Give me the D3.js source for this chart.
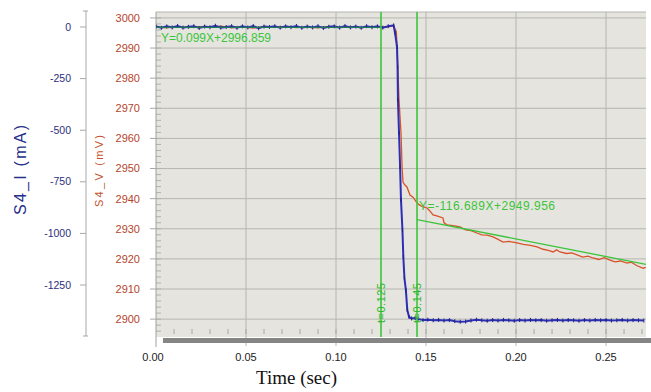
<!DOCTYPE html>
<html><head><meta charset="utf-8">
<script src="https://cdn.jsdelivr.net/npm/d3@7"></script>
<style>body{margin:0;background:#fff}svg{display:block}</style>
</head><body>
<svg id="c" width="651" height="392"></svg>
<script>
// ---- data ----
const xTicks = [0, 0.05, 0.10, 0.15, 0.20, 0.25];
const vTicks = [2900, 2910, 2920, 2930, 2940, 2950, 2960, 2970, 2980, 2990, 3000];
const iTicks = [0, -250, -500, -750, -1000, -1250];

const iTime = [0.000,0.003,0.006,0.009,0.012,0.015,0.018,0.021,0.024,0.027,0.030,0.033,0.036,0.039,0.042,0.045,0.048,0.051,0.054,0.057,0.060,0.063,0.066,0.069,0.072,0.075,0.078,0.081,0.084,0.087,0.090,0.093,0.096,0.099,0.102,0.105,0.108,0.111,0.114,0.117,0.120,0.123,0.126,0.129,0.132,
 0.1328,0.1339,0.1342,0.1344,0.1350,0.1356,0.1361,0.1369,0.1374,0.1380,0.1388,0.1396,0.1406,0.1420,0.1440,0.1456,0.1483,
 0.151,0.154,0.157,0.160,0.163,0.166,0.169,0.172,0.175,0.178,0.181,0.184,0.187,0.190,0.193,0.196,0.199,0.202,0.205,0.208,0.211,0.214,0.217,0.220,0.223,0.226,0.229,0.232,0.235,0.238,0.241,0.244,0.247,0.250,0.253,0.256,0.259,0.262,0.265,0.268,0.271];
const iVal = [2,-4,3,-2,5,-3,1,4,-5,2,-1,6,-3,0,4,-4,3,-2,5,-6,2,0,4,-3,3,-1,5,-4,2,-2,4,-5,1,3,-3,5,-2,2,-4,4,-1,3,-3,4,8,
 -29,-97,-194,-354,-514,-678,-838,-984,-1114,-1216,-1274,-1371,-1405,-1412,-1410,-1414,-1420,
 -1418,-1421,-1419,-1422,-1420,-1425,-1428,-1427,-1422,-1418,-1421,-1423,-1420,-1422,-1419,-1421,-1423,-1420,-1422,-1419,-1421,-1420,-1423,-1421,-1419,-1422,-1420,-1421,-1423,-1420,-1422,-1419,-1421,-1420,-1422,-1421,-1419,-1422,-1420,-1421,-1422];

const vTime = [0.000,0.006,0.012,0.018,0.024,0.030,0.036,0.042,0.048,0.054,0.060,0.066,0.072,0.078,0.084,0.090,0.096,0.102,0.108,0.114,0.120,0.126,0.132,0.1335,
 0.1339,0.1350,0.1361,0.1367,0.1372,0.1383,0.1394,0.1411,0.1428,0.1445,0.1461,0.1478,0.1506,0.1520,0.1539,0.1560,0.1594,0.1600,0.1617,0.1650,0.1689,0.1720,0.1750,0.1783,0.1810,0.1840,0.1872,0.1900,0.1928,0.1960,0.2006,0.2040,0.2080,0.2117,0.2150,0.2180,0.2206,0.2225,0.2244,0.2280,0.2310,0.2339,0.2370,0.2400,0.2428,0.2460,0.2490,0.2522,0.2550,0.2580,0.2617,0.2640,0.2670,0.2706,0.2720];
const vVal = [2997.0,2996.7,2997.2,2996.8,2997.1,2996.9,2997.3,2996.7,2997.0,2996.6,2997.2,2996.9,2997.1,2996.8,2997.0,2996.7,2997.2,2996.9,2997.1,2996.8,2997.0,2996.9,2997.3,2995.5,
 2990.4,2972.8,2961.8,2950.5,2945.5,2944.5,2943.9,2941.2,2940.5,2939.0,2938.0,2937.4,2936.9,2936.0,2934.6,2934.3,2933.6,2932.0,2931.3,2931.0,2930.6,2929.6,2929.4,2928.6,2928.0,2927.9,2927.3,2926.5,2925.6,2925.8,2925.3,2924.8,2924.5,2924.0,2923.2,2922.8,2922.3,2923.0,2922.3,2921.8,2922.0,2921.3,2920.6,2920.9,2920.3,2919.8,2920.4,2919.6,2919.0,2919.3,2918.6,2918.9,2917.8,2916.9,2917.2];

const fitSlope = [0.099, -116.689];
const fitIntercept = [2996.859, 2949.956];
const fitFrom = [0, 0.145];
const fitTo = [0.125, 0.2722];
const fitLabels = ["Y=0.099X+2996.859", "Y=-116.689X+2949.956"];
const cursorTimes = [0.125, 0.145];
const cursorLabels = ["t=0.125", "t=0.145"];

// ---- scales ----
const L = 156, R = 646, T = 12, B = 337;
const x = d3.scaleLinear().domain([0, 0.2722]).range([L, R]);
const yV = d3.scaleLinear().domain([2894.4, 3002.3]).range([336, 11]);
const yI = d3.scaleLinear().domain([-1497, 77.5]).range([336, 11]);

const svg = d3.select("#c");
const font = "Arial, 'Liberation Sans', sans-serif";

// plot background
svg.append("rect").attr("x", L).attr("y", T).attr("width", R - L).attr("height", B - T).attr("fill", "#e5e4de");
svg.append("line").attr("x1", L).attr("x2", R).attr("y1", T).attr("y2", T).attr("stroke", "#b4b4b0");

// grid
svg.append("g").selectAll("line").data(vTicks).join("line")
  .attr("x1", L).attr("x2", R).attr("y1", d => yV(d)).attr("y2", d => yV(d))
  .attr("stroke", "#b6b6b2").attr("stroke-width", 1);
svg.append("g").selectAll("line").data(xTicks.slice(1)).join("line")
  .attr("x1", d => x(d)).attr("x2", d => x(d)).attr("y1", T).attr("y2", 346)
  .attr("stroke", "#b6b6b2").attr("stroke-width", 1);

// minor ticks
const minorX = d3.range(1, 28).map(i => i / 100);
svg.append("g").selectAll("line").data(minorX).join("line")
  .attr("x1", d => x(d)).attr("x2", d => x(d)).attr("y1", 329).attr("y2", 334)
  .attr("stroke", "#a8a8a4");
const minorV = d3.range(2896, 3002, 2);
svg.append("g").selectAll("line").data(minorV).join("line")
  .attr("x1", L).attr("x2", L + 5).attr("y1", d => yV(d)).attr("y2", d => yV(d))
  .attr("stroke", "#b0b0ac");

// grey bar
svg.append("rect").attr("x", 163).attr("y", 338).attr("width", 651 - 163).attr("height", 5).attr("fill", "#858585");

// left plot border / mV axis
svg.append("line").attr("x1", L).attr("x2", L).attr("y1", T).attr("y2", 347).attr("stroke", "#a0a0a0");
svg.append("g").selectAll("line").data(vTicks).join("line")
  .attr("x1", 150).attr("x2", L).attr("y1", d => yV(d)).attr("y2", d => yV(d)).attr("stroke", "#a8a8a8");
svg.append("g").selectAll("text").data(vTicks).join("text")
  .attr("x", 140).attr("y", d => yV(d)).attr("dy", "0.35em").attr("text-anchor", "end")
  .attr("font-family", font).attr("font-size", 11).attr("fill", "#b5452b").text(d => d);

// mA axis
svg.append("line").attr("x1", 86).attr("x2", 86).attr("y1", 11).attr("y2", 336).attr("stroke", "#a8a8a8");
svg.append("g").selectAll("line").data([77.5, -1497]).join("line")
  .attr("x1", 83).attr("x2", 88).attr("y1", d => yI(d)).attr("y2", d => yI(d)).attr("stroke", "#a8a8a8");
svg.append("g").selectAll("line").data(iTicks).join("line")
  .attr("x1", 80).attr("x2", 86).attr("y1", d => yI(d)).attr("y2", d => yI(d)).attr("stroke", "#a8a8a8");
svg.append("g").selectAll("text").data(iTicks).join("text")
  .attr("x", 71).attr("y", d => yI(d)).attr("dy", "0.35em").attr("text-anchor", "end")
  .attr("font-family", font).attr("font-size", 10.5).attr("fill", "#2b2f7e").text(d => d);

// x labels
svg.append("g").selectAll("text").data(xTicks).join("text")
  .attr("x", d => x(d) - (d === 0 ? 3 : 0)).attr("y", 361).attr("text-anchor", "middle")
  .attr("font-family", font).attr("font-size", 11).attr("fill", "#222").text(d => d.toFixed(2));

// axis titles
svg.append("text").attr("transform", "translate(26,170) rotate(-90)").attr("text-anchor", "middle")
  .attr("font-family", font).attr("font-size", 16).attr("fill", "#26308a")
  .attr("textLength", 90).attr("lengthAdjust", "spacing").text("S4_I (mA)");
svg.append("text").attr("transform", "translate(103,171) rotate(-90)").attr("text-anchor", "middle")
  .attr("font-family", font).attr("font-size", 11).attr("fill", "#c4512c")
  .attr("textLength", 72).attr("lengthAdjust", "spacing").text("S4_V (mV)");
svg.append("text").attr("x", 296.5).attr("y", 384).attr("text-anchor", "middle")
  .attr("font-family", "'Liberation Serif', 'Times New Roman', serif").attr("font-size", 19).attr("fill", "#111")
  .text("Time (sec)");

// clip
svg.append("clipPath").attr("id", "clip").append("rect").attr("x", L).attr("y", T).attr("width", R - L).attr("height", B - T);
const plot = svg.append("g").attr("clip-path", "url(#clip)");

// voltage line (red)
const vData = vTime.map((t, i) => [t, vVal[i]]);
plot.append("path").datum(vData)
  .attr("d", d3.line().x(d => x(d[0])).y(d => yV(d[1])))
  .attr("fill", "none").attr("stroke", "#d9532a").attr("stroke-width", 1.3);

// current line (blue)
const iData = iTime.map((t, i) => [t, iVal[i]]);
plot.append("path").datum(iData)
  .attr("d", d3.line().x(d => x(d[0])).y(d => yI(d[1])))
  .attr("fill", "none").attr("stroke", "#2d2fb4").attr("stroke-width", 2);
plot.append("g").selectAll("line").data(iData).join("line")
  .attr("x1", d => x(d[0])).attr("x2", d => x(d[0]))
  .attr("y1", d => yI(d[1]) - 2).attr("y2", d => yI(d[1]) + 2)
  .attr("stroke", "#20228a").attr("stroke-width", 1);

// fit lines
fitSlope.forEach((m, k) => {
  const pts = [fitFrom[k], fitTo[k]].map(t => [t, m * t + fitIntercept[k]]);
  plot.append("path").datum(pts)
    .attr("d", d3.line().x(d => x(d[0])).y(d => yV(d[1])))
    .attr("fill", "none").attr("stroke", k === 0 ? "#1f7a5a" : "#3cc43c").attr("stroke-width", k === 0 ? 1.2 : 1.3);
});

// cursor lines
plot.append("g").selectAll("line").data(cursorTimes).join("line")
  .attr("x1", d => x(d)).attr("x2", d => x(d)).attr("y1", T).attr("y2", B)
  .attr("stroke", "#3cc43c").attr("stroke-width", 1.6);
svg.append("g").selectAll("text").data(cursorTimes).join("text")
  .attr("transform", d => `translate(${x(d)},303) rotate(-90)`)
  .attr("text-anchor", "middle").attr("dy", "0.35em")
  .attr("font-family", font).attr("font-size", 11).attr("fill", "#2fb82f")
  .attr("textLength", 40).attr("lengthAdjust", "spacing")
  .text((d, i) => cursorLabels[i]);

// fit labels
svg.append("text").attr("x", 161).attr("y", 42).attr("font-family", font).attr("font-size", 12)
  .attr("fill", "#3cc43c").attr("textLength", 110).attr("lengthAdjust", "spacing").text(fitLabels[0]);
svg.append("text").attr("x", 419).attr("y", 210).attr("font-family", font).attr("font-size", 12)
  .attr("fill", "#3cc43c").attr("textLength", 136).attr("lengthAdjust", "spacing").text(fitLabels[1]);
</script>
</body></html>
